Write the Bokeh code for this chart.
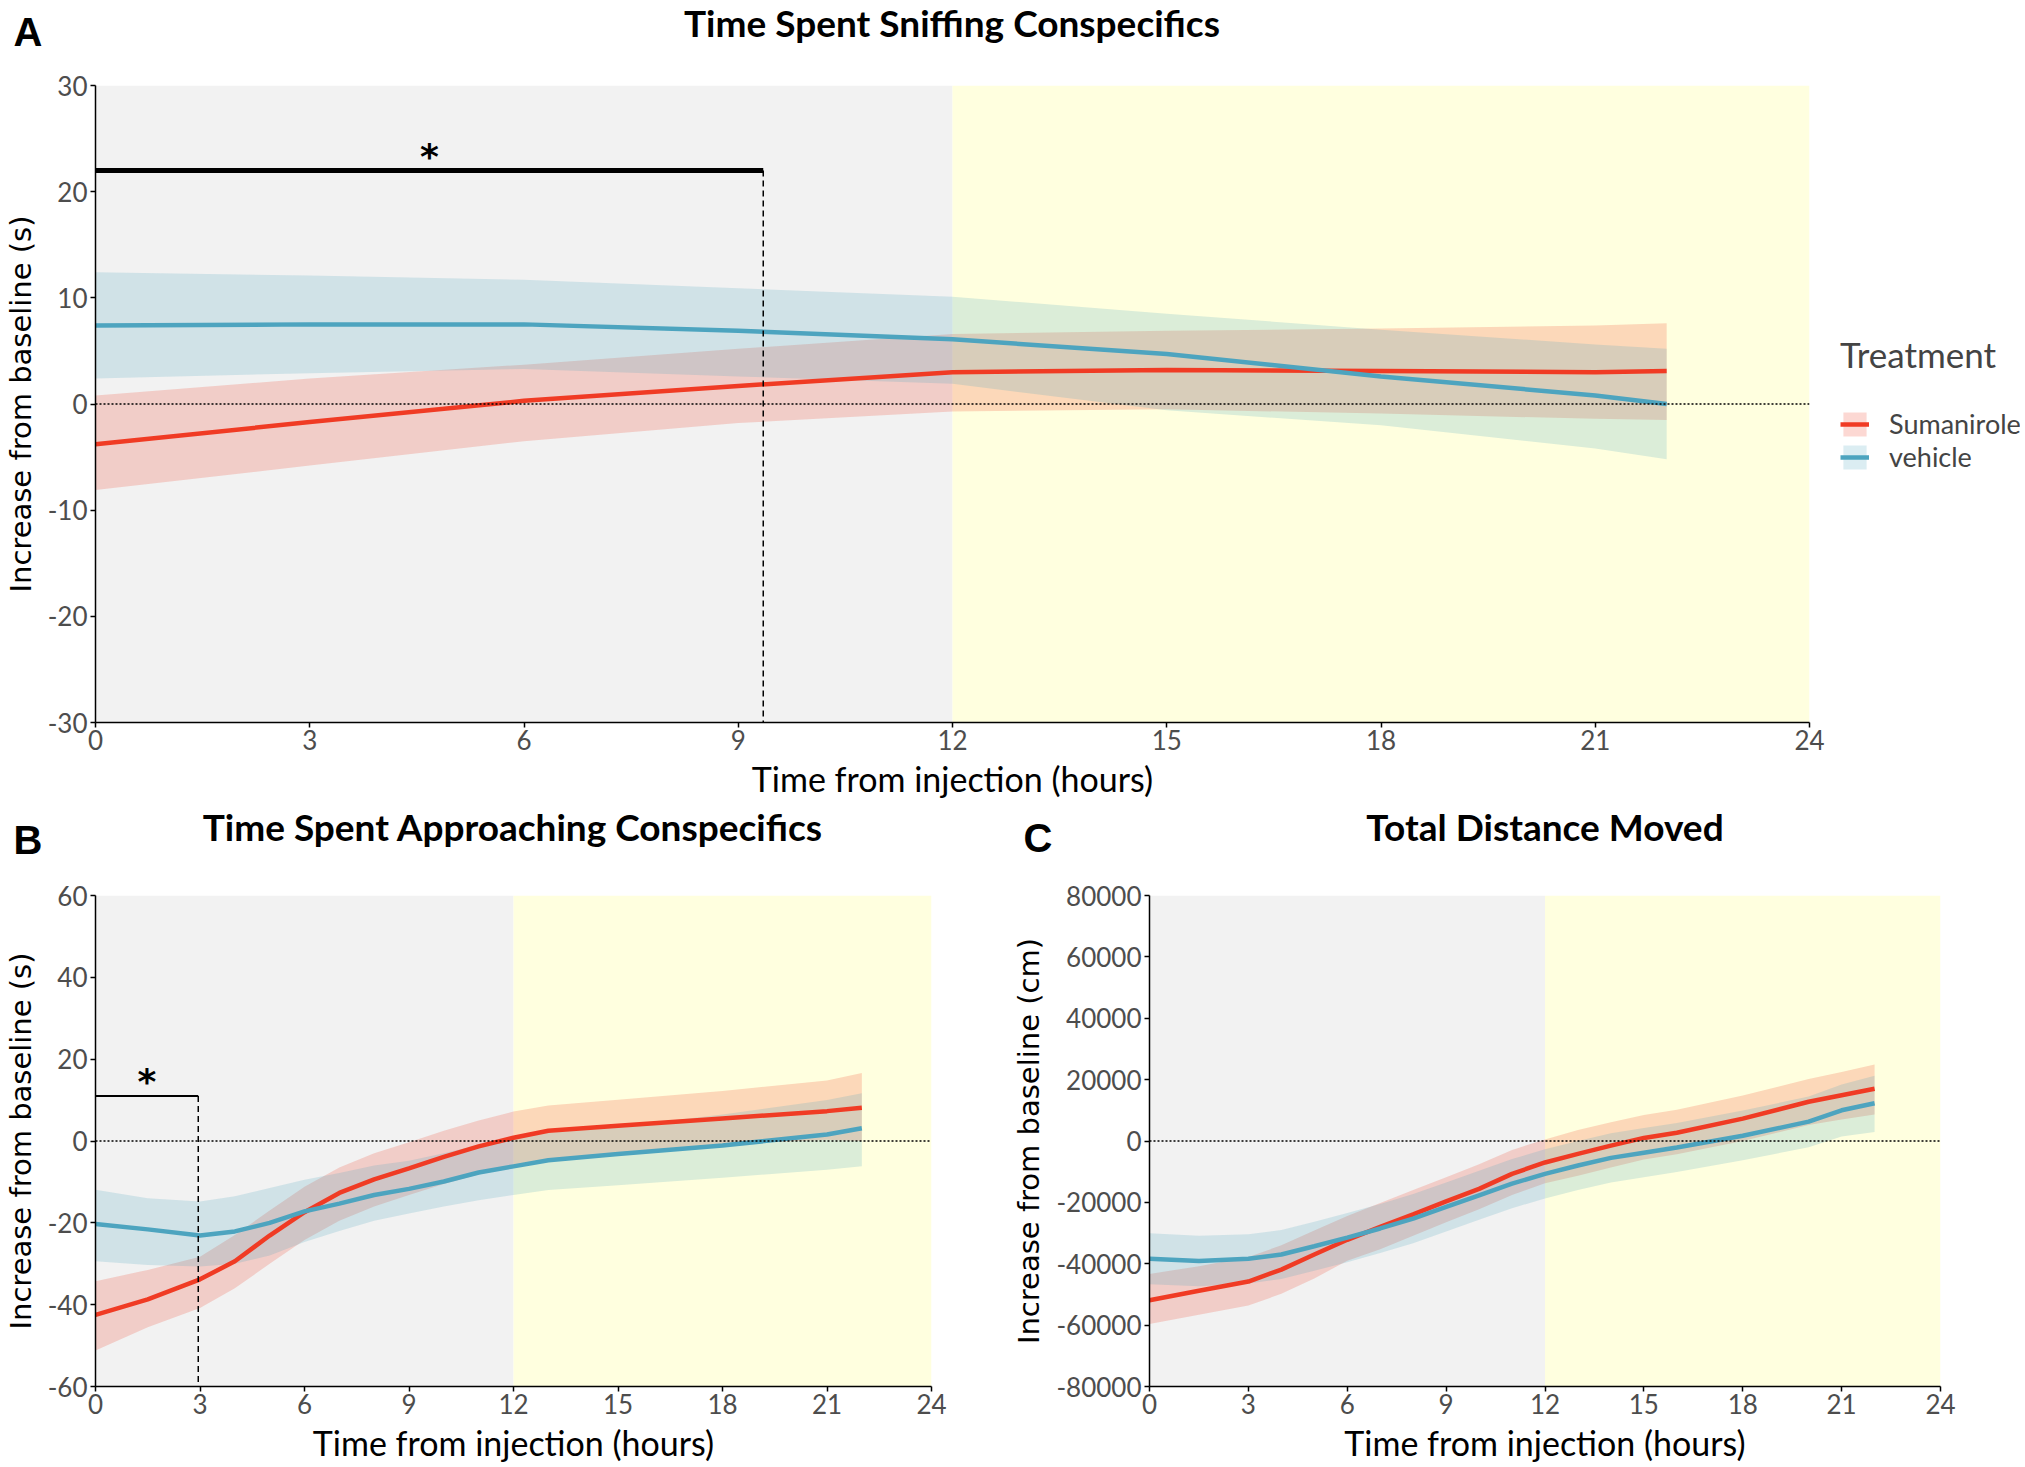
from bokeh.plotting import figure
from bokeh.models import (Range1d, FixedTicker, Span, Label, Legend, LegendItem,
                          NumeralTickFormatter)
from bokeh.layouts import column, row
from bokeh.embed import file_html
from bokeh.resources import INLINE
from bokeh.core.properties import value

# ---------------- data ----------------
X_TICKS = [0, 3, 6, 9, 12, 15, 18, 21, 24]
PHASE_LEFT = [0, 12]
PHASE_RIGHT = [12, 24]
GROUPS = ["Sumanirole", "vehicle"]
LEGEND_TITLE = "Treatment"
XLAB = "Time from injection (hours)"

# Panel A: Time Spent Sniffing Conspecifics (s)
A_TITLE = "Time Spent Sniffing Conspecifics"
A_YLAB = "Increase from baseline (s)"
A_HOURS = [0, 3, 6, 9, 12, 15, 18, 21, 22]
A_SUM_MEAN = [-3.8, -1.7, 0.3, 1.7, 3.0, 3.2, 3.1, 3.0, 3.1]
A_SUM_LO = [-8.1, -5.8, -3.5, -1.8, -0.7, -0.5, -0.9, -1.4, -1.5]
A_SUM_HI = [0.8, 2.4, 3.7, 5.2, 6.6, 6.9, 7.1, 7.4, 7.6]
A_VEH_MEAN = [7.4, 7.5, 7.5, 6.9, 6.1, 4.7, 2.6, 0.8, 0.0]
A_VEH_LO = [2.4, 2.9, 3.3, 2.6, 1.9, -0.6, -2.0, -4.2, -5.2]
A_VEH_HI = [12.4, 12.1, 11.7, 10.9, 10.1, 8.5, 7.0, 5.6, 5.2]
A_Y_TICKS = [-30, -20, -10, 0, 10, 20, 30]
A_SIG_END = 9.35
A_SIG_Y = 22

# Panel B: Time Spent Approaching Conspecifics (s)
B_TITLE = "Time Spent Approaching Conspecifics"
B_YLAB = "Increase from baseline (s)"
B_HOURS = [0, 1.5, 3, 4, 5, 6, 7, 8, 9, 10, 11, 12, 13, 15, 18, 21, 22]
B_SUM_MEAN = [-42.5, -38.7, -33.8, -29.4, -23.1, -17.4, -12.7, -9.4, -6.7, -3.9, -1.3, 0.8, 2.5, 3.7, 5.5, 7.3, 8.1]
B_SUM_LO = [-51.2, -45.5, -40.8, -36.0, -30.0, -24.2, -19.5, -16.0, -13.2, -10.5, -8.2, -6.2, -4.5, -2.9, -0.8, 0.3, 0.0]
B_SUM_HI = [-34.3, -31.5, -28.3, -23.0, -17.0, -11.2, -6.5, -3.0, -0.3, 2.5, 5.0, 7.2, 8.7, 10.1, 12.2, 14.8, 16.6]
B_VEH_MEAN = [-20.3, -21.6, -23.1, -22.1, -20.0, -17.2, -15.3, -13.2, -11.7, -9.9, -7.7, -6.2, -4.7, -3.2, -1.1, 1.6, 3.1]
B_VEH_LO = [-29.4, -30.3, -30.7, -30.0, -28.0, -24.7, -22.0, -19.5, -17.7, -16.0, -14.5, -13.2, -12.0, -10.8, -9.0, -7.0, -6.2]
B_VEH_HI = [-11.9, -14.0, -14.8, -13.5, -11.5, -9.5, -7.8, -6.0, -4.8, -3.0, -1.0, 0.6, 2.0, 3.5, 6.5, 10.0, 11.7]
B_Y_TICKS = [-60, -40, -20, 0, 20, 40, 60]
B_SIG_END = 2.95
B_SIG_Y = 11

# Panel C: Total Distance Moved (cm)
C_TITLE = "Total Distance Moved"
C_YLAB = "Increase from baseline (cm)"
C_HOURS = [0, 1.5, 3, 4, 5, 6, 7, 8, 9, 10, 11, 12, 13, 14, 15, 16, 18, 20, 21, 22]
C_SUM_MEAN = [-51900, -48800, -45800, -41900, -37000, -32200, -28000, -23900, -19700, -15600,
              -10700, -7000, -4200, -1500, 1000, 2700, 7300, 12800, 14900, 17000]
C_SUM_LO = [-59600, -56600, -53600, -49800, -44800, -39000, -35300, -30900, -26500, -22200,
            -17600, -13800, -11300, -8600, -6000, -4300, 0, 5200, 7000, 8600]
C_SUM_HI = [-43300, -40800, -37800, -34000, -29200, -24400, -20200, -16000, -11800, -7600,
            -2900, 500, 3600, 6100, 8500, 10200, 14800, 20200, 22500, 24900]
C_VEH_MEAN = [-38400, -39100, -38400, -37000, -34300, -31500, -28500, -25300, -21500, -17700,
              -13900, -10700, -8000, -5500, -3800, -2100, 1700, 6300, 10000, 12300]
C_VEH_LO = [-46700, -47300, -46400, -45000, -42300, -39500, -36500, -33300, -29500, -25700,
            -21900, -18700, -16000, -13500, -11800, -10100, -6300, -2000, 1500, 2900]
C_VEH_HI = [-30100, -30900, -30400, -29000, -26300, -23500, -20500, -17300, -13500, -9700,
            -5900, -2700, 0, 2500, 4200, 5900, 9900, 14500, 18400, 21300]
C_Y_TICKS = [-80000, -60000, -40000, -20000, 0, 20000, 40000, 60000, 80000]

# ---------------- style ----------------
RED = "#F03B24"
BLUE = "#4DA4BF"
PHASE_COLORS = ["#F2F2F2", "#FFFFDF"]
BAND_ALPHA = 0.2
LINE_W = 4.5
TICK_FONT = "Lato"
TOTAL_W = 2020
BASELINE_FIX = 14   # svg text baseline correction (px)


def blank_figure(width, height, xr=(0, 1), yr=(0, 1)):
    f = figure(width=width, height=height, output_backend="svg", toolbar_location=None,
               x_axis_location=None, y_axis_location=None, title=None,
               x_range=Range1d(*xr), y_range=Range1d(*yr),
               min_border_left=0, min_border_right=0, min_border_top=0, min_border_bottom=0)
    f.outline_line_color = None
    f.xgrid.visible = False
    f.ygrid.visible = False
    f.background_fill_color = "white"
    f.border_fill_color = "white"
    return f


def header_text(f, txt, x, y, size, font, align):
    f.add_layout(Label(x=x, y=y + BASELINE_FIX, x_units="screen", y_units="screen", text=txt,
                       text_font=font, text_font_style="bold", text_font_size=size,
                       text_color="black", text_baseline="alphabetic", text_align=align))


def base_figure(width, height, ymin, ymax, yticks, borders, ylabel):
    left, right, top, bottom = borders
    p = figure(width=width, height=height, output_backend="svg", toolbar_location=None,
               title=None, x_range=Range1d(0, 24), y_range=Range1d(ymin, ymax),
               min_border_left=left, min_border_right=right,
               min_border_top=top, min_border_bottom=bottom)
    p.outline_line_color = None
    p.xgrid.visible = False
    p.ygrid.visible = False
    p.background_fill_color = "white"
    p.border_fill_color = "white"
    p.quad(left=PHASE_LEFT, right=PHASE_RIGHT, bottom=ymin, top=ymax,
           fill_color=PHASE_COLORS, line_color=None)
    p.xaxis.ticker = FixedTicker(ticks=X_TICKS)
    p.yaxis.ticker = FixedTicker(ticks=yticks)
    p.yaxis.formatter = NumeralTickFormatter(format="0")
    for ax in (p.xaxis, p.yaxis):
        ax.axis_line_color = "black"
        ax.axis_line_width = 1.5
        ax.major_tick_line_color = "black"
        ax.major_tick_line_width = 1.5
        ax.major_tick_out = 5
        ax.major_tick_in = 0
        ax.minor_tick_out = 0
        ax.minor_tick_in = 0
        ax.major_label_text_font = TICK_FONT
        ax.major_label_text_font_size = "26px"
        ax.major_label_text_color = "#4D4D4D"
    p.xaxis.major_label_standoff = 2
    p.yaxis.major_label_standoff = 3
    p.yaxis.axis_label = ylabel
    p.yaxis.axis_label_text_font = "DejaVu Sans"
    p.yaxis.axis_label_text_font_size = "29px"
    p.yaxis.axis_label_text_font_style = "normal"
    p.yaxis.axis_label_text_color = "black"
    p.yaxis.axis_label_standoff = 7
    p.xaxis.axis_label = XLAB
    p.xaxis.axis_label_text_font = "Lato"
    p.xaxis.axis_label_text_font_size = "34px"
    p.xaxis.axis_label_text_font_style = "normal"
    p.xaxis.axis_label_text_color = "black"
    p.xaxis.axis_label_standoff = 5
    p.add_layout(Span(location=0, dimension="width", line_color="black",
                      line_width=1.5, line_dash="2 2"))
    return p


def draw_panel(p, hours, s_lo, s_hi, s_mean, v_lo, v_hi, v_mean):
    bands = [p.varea(x=hours, y1=s_lo, y2=s_hi, fill_color=RED, fill_alpha=BAND_ALPHA),
             p.varea(x=hours, y1=v_lo, y2=v_hi, fill_color=BLUE, fill_alpha=BAND_ALPHA)]
    lines = [p.line(x=hours, y=s_mean, line_color=RED, line_width=LINE_W),
             p.line(x=hours, y=v_mean, line_color=BLUE, line_width=LINE_W)]
    return bands, lines


def significance(p, end, y, ymin, width):
    p.line(x=[0, end], y=[y, y], line_color="black", line_width=width)
    p.line(x=[end, end], y=[y, ymin], line_color="black", line_width=1.5, line_dash="6 4")
    p.text(x=[end / 2], y=[y], text=["*"], text_font=value("DejaVu Sans"),
           text_font_style="bold", text_font_size="36px", text_align="center",
           text_baseline="alphabetic", y_offset=-BASELINE_FIX, text_color="black")


# ---------------- geometry (pixels) ----------------
A_FRAME_L, A_FRAME_R = 94, 1809
B_FRAME_L, B_FRAME_R = 94, 931
C_FRAME_L, C_FRAME_R = 1149, 1940
HEAD_A_H = 69
HEAD_BC_H = 78
PA_W, PA_H = 1825, 732
PB_W, PC_W, PBC_H = 1000, 1020, 586

# ---------------- header A ----------------
head_a = blank_figure(TOTAL_W, HEAD_A_H)
header_text(head_a, "A", 13, 24, "40px", "Liberation Sans", "left")
header_text(head_a, A_TITLE, (A_FRAME_L + A_FRAME_R) / 2, 33, "37px", "Lato", "center")

# ---------------- Panel A ----------------
pa = base_figure(PA_W, PA_H, -30, 30, A_Y_TICKS, (94, PA_W - A_FRAME_R, 16, 79), A_YLAB)
draw_panel(pa, A_HOURS, A_SUM_LO, A_SUM_HI, A_SUM_MEAN, A_VEH_LO, A_VEH_HI, A_VEH_MEAN)
significance(pa, A_SIG_END, A_SIG_Y, -30, 5)

# legend on its own canvas right of panel A (key renderers kept out of view)
leg_fig = blank_figure(TOTAL_W - PA_W, PA_H, xr=(100, 101), yr=(100, 101))
key_s = [leg_fig.varea(x=A_HOURS, y1=A_SUM_LO, y2=A_SUM_HI, fill_color=RED, fill_alpha=BAND_ALPHA),
         leg_fig.line(x=A_HOURS, y=A_SUM_MEAN, line_color=RED, line_width=LINE_W)]
key_v = [leg_fig.varea(x=A_HOURS, y1=A_VEH_LO, y2=A_VEH_HI, fill_color=BLUE, fill_alpha=BAND_ALPHA),
         leg_fig.line(x=A_HOURS, y=A_VEH_MEAN, line_color=BLUE, line_width=LINE_W)]
legend = Legend(items=[LegendItem(label=GROUPS[0], renderers=key_s),
                       LegendItem(label=GROUPS[1], renderers=key_v)],
                location=(15, 249), title=LEGEND_TITLE,
                title_text_font="Lato", title_text_font_size="35px",
                title_text_font_style="normal", title_standoff=32,
                label_text_font="Lato", label_text_font_size="27px",
                glyph_width=29, glyph_height=30, spacing=0, padding=0, margin=0,
                label_standoff=20, border_line_color=None, background_fill_alpha=0)
leg_fig.add_layout(legend)

# ---------------- header B / C ----------------
head_bc = blank_figure(TOTAL_W, HEAD_BC_H)
header_text(head_bc, "B", 13, 26, "40px", "Liberation Sans", "left")
header_text(head_bc, B_TITLE, (B_FRAME_L + B_FRAME_R) / 2, 39, "37px", "Lato", "center")
header_text(head_bc, "C", 1023, 28, "40px", "Liberation Sans", "left")
header_text(head_bc, C_TITLE, (C_FRAME_L + C_FRAME_R) / 2, 39, "37px", "Lato", "center")

# ---------------- Panel B ----------------
pb = base_figure(PB_W, PBC_H, -60, 60, B_Y_TICKS, (94, PB_W - B_FRAME_R, 16, 79), B_YLAB)
draw_panel(pb, B_HOURS, B_SUM_LO, B_SUM_HI, B_SUM_MEAN, B_VEH_LO, B_VEH_HI, B_VEH_MEAN)
significance(pb, B_SIG_END, B_SIG_Y, -60, 2)

# ---------------- Panel C ----------------
pc = base_figure(PC_W, PBC_H, -80000, 80000, C_Y_TICKS,
                 (C_FRAME_L - PB_W, PB_W + PC_W - C_FRAME_R, 16, 79), C_YLAB)
draw_panel(pc, C_HOURS, C_SUM_LO, C_SUM_HI, C_SUM_MEAN, C_VEH_LO, C_VEH_HI, C_VEH_MEAN)

layout = column(head_a, row(pa, leg_fig), head_bc, row(pb, pc))
open("out.html", "w").write(file_html(layout, INLINE))
